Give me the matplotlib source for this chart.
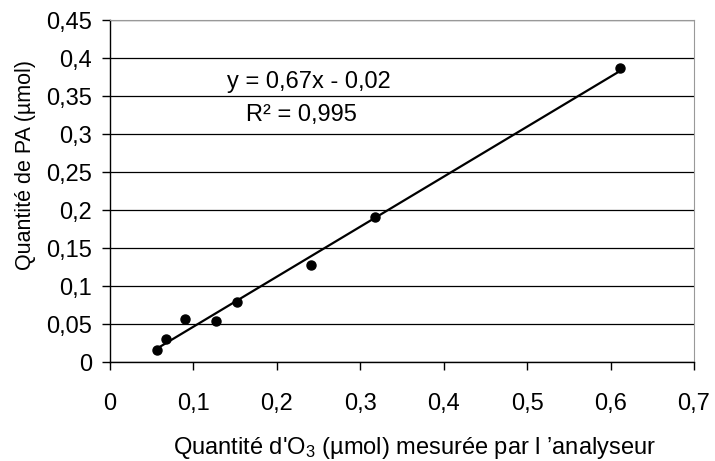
import numpy as np
import matplotlib
matplotlib.use("Agg")
import matplotlib.pyplot as plt

plt.rcParams['font.family'] = ['Liberation Sans', 'DejaVu Sans']
plt.rcParams['mathtext.fontset'] = 'custom'
plt.rcParams['mathtext.rm'] = 'Liberation Sans'
plt.rcParams['mathtext.it'] = 'Liberation Sans'

# données
o3_umol = [0.0565, 0.0668, 0.0903, 0.127, 0.1527, 0.2414, 0.318, 0.6115]
pa_umol = [0.0154, 0.0298, 0.0561, 0.054, 0.0794, 0.1276, 0.191, 0.387]
x_ticks = [0, 0.1, 0.2, 0.3, 0.4, 0.5, 0.6, 0.7]
y_ticks = [0, 0.05, 0.1, 0.15, 0.2, 0.25, 0.3, 0.35, 0.4, 0.45]

def fr(v):
    return f"{v:g}".replace('.', ',')

fig = plt.figure(figsize=(7.15, 4.61), dpi=100)
ax = fig.add_axes([110 / 715, 1 - 362 / 461, 584 / 715, 342 / 461])

# droite de régression
a, b = np.polyfit(o3_umol, pa_umol, 1)
xs = np.array([min(o3_umol), max(o3_umol)])
ax.plot(xs, a * xs + b, color='black', lw=1.6, zorder=3)
ax.plot(o3_umol, pa_umol, 'o', color='black', ms=6.5, zorder=4)

ax.set_xlim(0, 0.7)
ax.set_ylim(0, 0.45)
ax.set_xticks(x_ticks)
ax.set_yticks(y_ticks)
ax.set_xticklabels([fr(v) for v in x_ticks])
ax.set_yticklabels([fr(v) for v in y_ticks])
ax.yaxis.grid(True, color='black', lw=0.9)
ax.set_axisbelow(True)

for s in ['top', 'right']:
    ax.spines[s].set_color('#999999')
ax.spines['left'].set_linewidth(1.0)
ax.spines['bottom'].set_linewidth(1.0)
ax.tick_params(axis='both', direction='out', length=6, width=1, labelsize=17, colors='black')
ax.tick_params(axis='x', pad=16)
ax.tick_params(axis='y', pad=7)

ax.set_ylabel("Quantité de PA (µmol)", fontsize=15.5, va='center')
ax.yaxis.set_label_coords(-0.145, 0.576)
ax.set_xlabel("Quantité d'O$_3$ (µmol) mesurée par l \u2019analyseur", fontsize=17, va='center')
ax.xaxis.set_label_coords(0.522, -0.25)

ax.text(0.238, 0.368, "y = 0,67x - 0,02", fontsize=17, ha='center', va='center')
ax.text(0.230, 0.325, "R\u00b2 = 0,995", fontsize=17, ha='center', va='center')

fig.savefig("out.png", dpi=100)
